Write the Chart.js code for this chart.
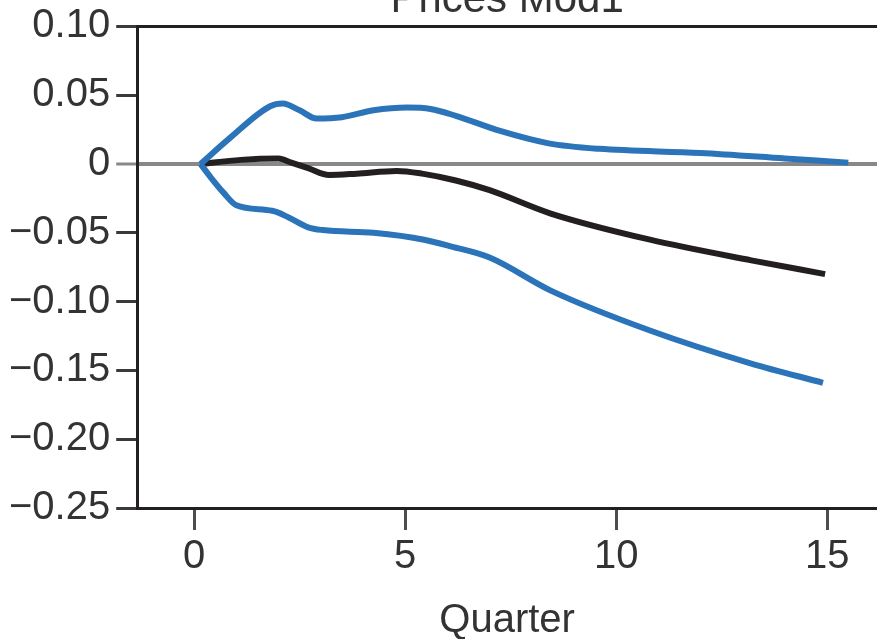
<!DOCTYPE html>
<html>
<head>
<meta charset="utf-8">
<script src="https://cdn.jsdelivr.net/npm/chart.js@4"></script>
<style>
  body { margin: 0; background: #fff; }
  #wrap { position: relative; width: 877px; height: 639px; overflow: hidden; }
  #chart { position: absolute; left: 0; top: -25px; }
</style>
</head>
<body>
<div id="wrap"><canvas id="chart" width="877" height="670"></canvas></div>
<script>
const titleText = "Prices Mod1";
const xTitle = "Quarter";
const xTicks = [0, 5, 10, 15];
const yTicks = [0.10, 0.05, 0, -0.05, -0.10, -0.15, -0.20, -0.25];

// upper band
const upperQ = [0.15, 0.85, 1.8, 2.1, 2.5, 2.9, 3.5, 4.25, 5.05, 5.6, 6.2, 7.25, 8.4, 9.6, 12, 14, 15.5];
const upperV = [0, 0.019, 0.042, 0.044, 0.039, 0.033, 0.034, 0.039, 0.041, 0.040, 0.035, 0.024, 0.015, 0.011, 0.008, 0.004, 0.001];
// median response
const midQ = [0.15, 1.1, 2.0, 2.3, 2.7, 3.2, 3.85, 4.8, 5.4, 6.2, 7.0, 8.45, 10.8, 13.2, 14.95];
const midV = [0, 0.003, 0.004, 0.001, -0.003, -0.008, -0.007, -0.005, -0.007, -0.012, -0.019, -0.036, -0.055, -0.070, -0.080];
// lower band
const lowQ = [0.15, 0.4, 0.7, 1.0, 1.85, 2.25, 2.7, 3.05, 4.25, 5.45, 6.1, 7.0, 8.45, 10.8, 13.2, 14.9];
const lowV = [0, -0.010, -0.021, -0.030, -0.034, -0.039, -0.046, -0.048, -0.050, -0.055, -0.060, -0.068, -0.092, -0.121, -0.145, -0.159];

const pts = (q, v) => q.map((x, i) => ({ x: x, y: v[i] }));
const font = { family: "'Liberation Sans', Arial, sans-serif", size: 40 };
const txt = "#333333";
const dark = "#231f20";

function yLabel(v) {
  if (Math.abs(v) < 1e-9) return "0";
  return (v < 0 ? "\u2212" : "") + Math.abs(v).toFixed(2);
}

const line = (data, color) => ({
  data: data,
  borderColor: color,
  borderWidth: 6,
  pointRadius: 0,
  fill: false,
  cubicInterpolationMode: 'monotone'
});

new Chart(document.getElementById("chart").getContext('2d'), {
  type: 'line',
  data: {
    datasets: [
      line(pts(upperQ, upperV), "#2b74b9"),
      line(pts(lowQ, lowV), "#2b74b9"),
      line(pts(midQ, midV), dark)
    ]
  },
  options: {
    responsive: false,
    animation: false,
    layout: { padding: { left: 3, top: 0, right: 0, bottom: 0 } },
    plugins: {
      legend: { display: false },
      tooltip: { enabled: false },
      title: {
        display: true,
        text: titleText,
        fullSize: false,
        color: txt,
        font: { family: font.family, size: 42, weight: 'normal' },
        padding: { top: 0, bottom: 1 }
      }
    },
    scales: {
      x: {
        type: 'linear',
        min: -1.35,
        max: 16.18,
        afterBuildTicks: axis => { axis.ticks = xTicks.map(v => ({ value: v })); },
        ticks: { color: txt, font: font, padding: 3, maxRotation: 0 },
        grid: { drawOnChartArea: false, drawTicks: true, tickLength: 22, tickColor: "#4d4d4d", tickWidth: 3 },
        border: { display: true, color: dark, width: 3 },
        title: { display: true, text: xTitle, color: txt, font: font, padding: { top: 13, bottom: 0 } }
      },
      y: {
        min: -0.25,
        max: 0.10,
        afterBuildTicks: axis => { axis.ticks = yTicks.map(v => ({ value: v })); },
        ticks: { color: txt, font: font, padding: 6, callback: v => yLabel(v) },
        grid: {
          drawOnChartArea: true,
          drawTicks: true,
          tickLength: 21,
          tickWidth: 3,
          color: c => Math.abs(c.tick.value) < 1e-9 ? "#888888" : (Math.abs(c.tick.value - 0.10) < 1e-9 ? dark : "rgba(0,0,0,0)"),
          lineWidth: c => Math.abs(c.tick.value) < 1e-9 ? 4 : 3,
          tickColor: c => Math.abs(c.tick.value) < 1e-9 ? "#888888" : "#3a3a3a"
        },
        border: { display: true, color: dark, width: 3 }
      }
    }
  }
});
</script>
</body>
</html>
